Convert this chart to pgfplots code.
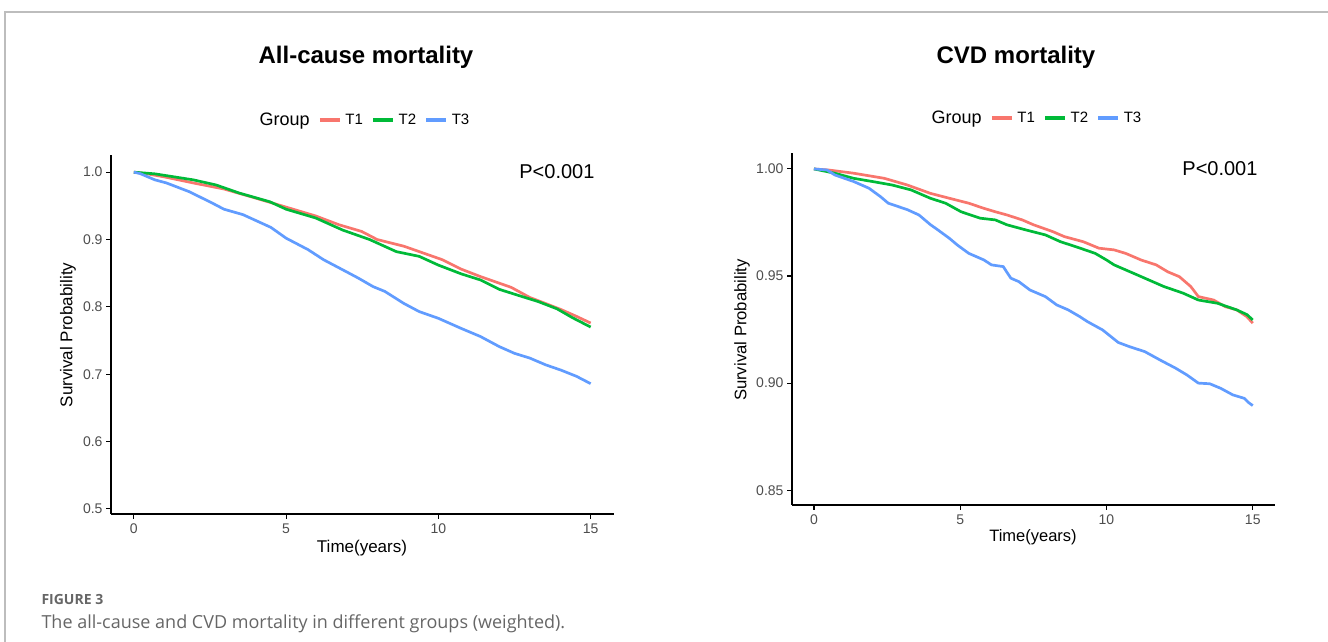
\documentclass[border=0pt]{standalone}
\usepackage{fontspec}
\setmainfont{Liberation Sans}
\newfontfamily\capfont{Open Sans}
\usepackage{pgfplots}
\pgfplotsset{compat=1.18}
\definecolor{cT1}{HTML}{F8766D}
\definecolor{cT2}{HTML}{00BA38}
\definecolor{cT3}{HTML}{619CFF}
\definecolor{tickgray}{HTML}{4D4D4D}
\definecolor{framegray}{HTML}{BDBDBD}
\definecolor{capgray}{HTML}{666666}
\pgfplotsset{km/.style={scale only axis,
  axis x line*=bottom, axis y line*=left,
  axis line style={-, line width=1.3pt, black},
  tick align=outside, major tick length=5pt, tick style={line width=1.1pt, black},
  xmin=-0.75, xmax=15.75, xtick={0,5,10,15}, xticklabels={0,5,10,15},
  ticklabel style={font=\fontsize{14}{14}\selectfont, text=tickgray},
  xticklabel style={yshift=-1pt},
  /pgf/number format/assume math mode=true,
  legend columns=-1,
  legend style={draw=none, fill=none, font=\fontsize{15}{15}\selectfont, anchor=center,
    nodes={inner xsep=0pt},
    /tikz/every odd column/.append style={column sep=4pt},
    /tikz/every even column/.append style={column sep=8.5pt}},
  legend image code/.code={\draw[##1, line width=3.2pt] (0pt,0pt) -- (20pt,0pt);},
  every axis plot/.append style={line width=2.7pt, no marks}}}
\begin{document}
\begin{tikzpicture}[x=1pt,y=1pt]
\useasboundingbox (0,0) rectangle (1328,642);
\draw[framegray, line width=1.5pt] (5,0) -- (5,630) -- (1328,630);
% ---------- left panel ----------
\begin{axis}[km, at={(111pt,128pt)}, anchor=south west, width=502.5pt, height=359pt,
  ymin=0.4925, ymax=1.0255, ytick={0.5,0.6,0.7,0.8,0.9,1.0}, yticklabels={0.5,0.6,0.7,0.8,0.9,1.0},
  legend style={at={(0.5005,1.0975)}}]
\addlegendimage{empty legend}\addlegendentry{\fontsize{18}{18}\selectfont Group}
\addplot[cT1] coordinates {(0,1.0) (0.5,0.997) (1.0,0.993) (1.95,0.984) (2.96,0.975) (3.96,0.962) (4.97,0.9485) (5.97,0.935) (6.73,0.922) (7.48,0.912) (7.99,0.900) (8.87,0.890) (9.5,0.880) (10.13,0.870) (10.75,0.856) (11.38,0.845) (12.39,0.829) (13.0,0.814) (13.52,0.805) (14.03,0.796) (14.53,0.786) (15,0.776)};
\addlegendentry{T1}
\addplot[cT2] coordinates {(0,1) (0.69,0.9975) (1.95,0.9886) (2.7,0.981) (3.46,0.969) (4.47,0.956) (5.0,0.945) (5.97,0.932) (6.86,0.914) (7.74,0.900) (8.62,0.882) (9.37,0.875) (10,0.862) (10.75,0.849) (11.38,0.840) (12,0.826) (12.77,0.815) (13.27,0.808) (13.9,0.797) (14.4,0.784) (15,0.770)};
\addlegendentry{T2}
\addplot[cT3] coordinates {(0,1) (0.2,0.998) (0.69,0.9886) (1.07,0.984) (1.82,0.971) (2.58,0.954) (2.96,0.945) (3.58,0.937) (4.21,0.924) (4.5,0.918) (5.0,0.902) (5.72,0.885) (6.23,0.870) (6.86,0.855) (7.36,0.843) (7.86,0.830) (8.24,0.823) (8.87,0.805) (9.37,0.793) (10,0.783) (10.75,0.768) (11.38,0.756) (12.0,0.741) (12.5,0.731) (13.0,0.724) (13.52,0.714) (14.03,0.706) (14.53,0.697) (15,0.686)};
\addlegendentry{T3}
\end{axis}
% ---------- right panel ----------
\begin{axis}[km, at={(792pt,137pt)}, anchor=south west, width=482.7pt, height=351.7pt,
  ymin=0.8431, ymax=1.0073, ytick={0.85,0.90,0.95,1.00}, yticklabels={0.85,0.90,0.95,1.00},
  legend style={at={(0.5024,1.1004)}}]
\addlegendimage{empty legend}\addlegendentry{\fontsize{18}{18}\selectfont Group}
\addplot[cT1] coordinates {(0,1) (0.5,0.9995) (1.36,0.998) (2.41,0.9956) (3.19,0.9925) (3.98,0.9886) (4.63,0.9863) (5.29,0.984) (5.81,0.9816) (6.2,0.980) (6.6,0.9785) (7.12,0.9762) (7.51,0.9739) (8.17,0.9707) (8.56,0.9684) (9.21,0.966) (9.74,0.963) (10.26,0.9622) (10.65,0.9606) (11.18,0.9575) (11.7,0.9552) (12.09,0.952) (12.49,0.9497) (12.88,0.9451) (13.14,0.9404) (13.66,0.9388) (14.06,0.9357) (14.45,0.9342) (14.8,0.931) (15,0.928)};
\addlegendentry{T1}
\addplot[cT2] coordinates {(0,1) (0.71,0.998) (1.36,0.9956) (2.01,0.9941) (2.67,0.9925) (3.32,0.9902) (3.98,0.9863) (4.5,0.984) (5.03,0.980) (5.68,0.977) (6.2,0.9762) (6.6,0.9739) (7.25,0.9715) (7.91,0.9692) (8.43,0.966) (8.95,0.9637) (9.61,0.9606) (10.0,0.9575) (10.26,0.9552) (10.92,0.9513) (11.44,0.9482) (11.96,0.9451) (12.62,0.942) (13.14,0.9388) (13.79,0.9373) (14.45,0.9342) (14.8,0.932) (15,0.9295)};
\addlegendentry{T2}
\addplot[cT3] coordinates {(0,1) (0.45,0.9995) (0.71,0.9972) (1.36,0.9941) (1.88,0.991) (2.28,0.987) (2.54,0.984) (3.19,0.981) (3.59,0.9785) (3.98,0.974) (4.24,0.9715) (4.63,0.9676) (4.9,0.9645) (5.29,0.9606) (5.81,0.9575) (6.07,0.9552) (6.47,0.9544) (6.73,0.949) (7.0,0.9474) (7.38,0.9435) (7.91,0.9404) (8.3,0.9365) (8.69,0.9342) (9.08,0.9311) (9.35,0.9287) (9.87,0.9248) (10.4,0.919) (10.79,0.917) (11.31,0.9147) (11.83,0.9108) (12.36,0.907) (12.75,0.9038) (13.14,0.900) (13.53,0.8997) (13.9,0.8976) (14.32,0.8945) (14.71,0.8929) (14.85,0.891) (15,0.8895)};
\addlegendentry{T3}
\end{axis}
% ---------- text ----------
\node[font=\bfseries\fontsize{24}{24}\selectfont] at (366,585) {All-cause mortality};
\node[font=\bfseries\fontsize{24}{24}\selectfont] at (1016,585) {CVD mortality};
\node[anchor=east, font=\fontsize{20}{20}\selectfont] at (598,470) {P<0.001};
\node[anchor=east, font=\fontsize{20}{20}\selectfont] at (1261,473) {P<0.001};
\node[rotate=90, font=\fontsize{17}{17}\selectfont] at (68,307) {Survival Probability};
\node[rotate=90, font=\fontsize{16.7}{16.7}\selectfont] at (742,312) {Survival Probability};
\node[font=\fontsize{17}{17}\selectfont] at (362,94) {Time(years)};
\node[font=\fontsize{16.5}{16.5}\selectfont] at (1033,105) {Time(years)};
\node[anchor=west, text=capgray, font=\capfont\bfseries\fontsize{14}{14}\selectfont] at (38,42) {FIGURE 3};
\node[anchor=west, text=capgray, font=\capfont\fontsize{18}{18}\selectfont] at (38,18) {The all-cause and CVD mortality in different groups (weighted).};
\end{tikzpicture}
\end{document}
